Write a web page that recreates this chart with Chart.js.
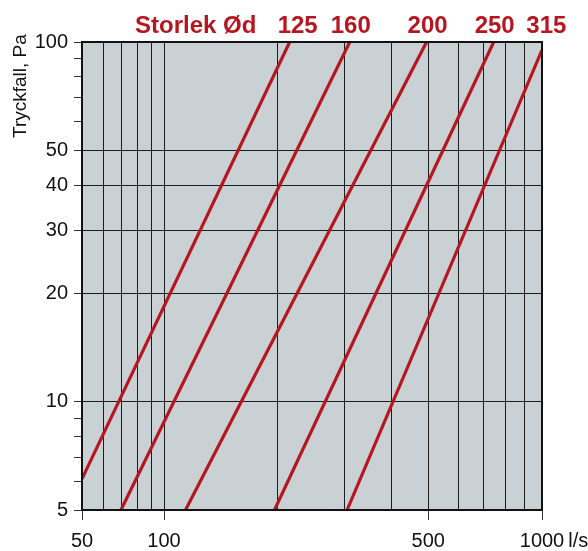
<!DOCTYPE html>
<html lang="sv">
<head>
    <meta charset="UTF-8">
    <title>Tryckfall</title>
    <script src="https://cdn.jsdelivr.net/npm/chart.js"></script>
    <style>
        body {
            margin: 0;
            background: #fff;
        }
        canvas {
            display: block;
        }
    </style>
</head>
<body>
    <canvas id="chart" width="588" height="551"></canvas>

    <script>
        // Storlek Ød, varje linje ritas mellan två avlästa punkter
        const sizes = ['125', '160', '200', '250', '315'];
        const flowStart = [50, 69.5, 114, 196, 305];
        const dropStart = [6.1, 5, 5, 5, 5];
        const flowEnd = [215, 310, 495, 745, 1000];
        const dropEnd = [100, 100, 100, 100, 95];

        // axlar
        const flowTicks = [50, 60, 70, 80, 90, 100, 200, 300, 400, 500, 600, 700, 800, 900, 1000];
        const flowLabels = [50, 100, 500, 1000];
        const dropTicks = [5, 6, 7, 8, 9, 10, 20, 30, 40, 50, 60, 70, 80, 90, 100];
        const dropLabels = [5, 10, 20, 30, 40, 50, 100];
        const dropGrid = [5, 10, 20, 30, 40, 50, 100];

        const RED = '#b5161f';
        const SANS = "'Liberation Sans', Arial, sans-serif";

        // originalet har olika skala för 50-100 och 100-1000
        const SPLIT = 82 / 460;

        class SplitLogScale extends Chart.LogarithmicScale {
            static id = 'splitlog';

            getPixelForValue(value) {
                if (value === undefined || value === 0) value = this.min;
                if (value === null || isNaN(value)) return NaN;
                const a = Math.log10(this.min), b = Math.log10(this.max), m = 2;
                const v = Math.log10(value);
                const dec = v <= m
                    ? SPLIT * (v - a) / (m - a)
                    : SPLIT + (1 - SPLIT) * (v - m) / (b - m);
                return this.getPixelForDecimal(dec);
            }

            getValueForPixel(pixel) {
                const dec = this.getDecimalForPixel(pixel);
                const a = Math.log10(this.min), b = Math.log10(this.max), m = 2;
                const v = dec <= SPLIT
                    ? a + (m - a) * dec / SPLIT
                    : m + (b - m) * (dec - SPLIT) / (1 - SPLIT);
                return Math.pow(10, v);
            }
        }
        Chart.register(SplitLogScale);

        const datasets = sizes.map((s, i) => ({
            label: s,
            data: [{x: flowStart[i], y: dropStart[i]}, {x: flowEnd[i], y: dropEnd[i]}],
            borderColor: RED,
            borderWidth: 3.2,
            pointRadius: 0,
            fill: false,
            borderCapStyle: 'butt'
        }));

        const decorPlugin = {
            id: 'decor',
            beforeDraw(chart) {
                const {ctx, chartArea: a} = chart;
                ctx.save();
                ctx.fillStyle = '#c9d1d5';
                ctx.fillRect(a.left, a.top, a.right - a.left, a.bottom - a.top);
                ctx.restore();
            },
            afterDatasetsDraw(chart) {
                const {ctx, chartArea: a} = chart;
                ctx.save();
                ctx.strokeStyle = '#111';
                ctx.lineWidth = 2;
                ctx.strokeRect(a.left, a.top, a.right - a.left, a.bottom - a.top);
                ctx.restore();
            },
            afterDraw(chart) {
                const {ctx, chartArea: a, scales} = chart;
                const xs = scales.x, ys = scales.y;
                ctx.save();

                // rubrik
                ctx.fillStyle = RED;
                ctx.font = 'bold 24px ' + SANS;
                ctx.textBaseline = 'alphabetic';
                ctx.textAlign = 'left';
                ctx.fillText('Storlek Ød', 135, 33);
                ctx.textAlign = 'center';
                sizes.forEach((s, i) => {
                    const x0 = xs.getPixelForValue(flowStart[i]), y0 = ys.getPixelForValue(dropStart[i]);
                    const x1 = xs.getPixelForValue(flowEnd[i]), y1 = ys.getPixelForValue(dropEnd[i]);
                    const xt = x0 + (x1 - x0) * (a.top - y0) / (y1 - y0);
                    ctx.fillText(s, i === 0 ? xt + 8 : xt + 1, 33);
                });

                // y-axelns titel
                ctx.fillStyle = '#111';
                ctx.font = '19px ' + SANS;
                ctx.translate(26, 138);
                ctx.rotate(-Math.PI / 2);
                ctx.textAlign = 'left';
                ctx.fillText('Tryckfall, Pa', 0, 0);
                ctx.restore();

                // enhet efter 1000
                ctx.save();
                ctx.fillStyle = '#111';
                ctx.font = '20px ' + SANS;
                ctx.textAlign = 'left';
                ctx.textBaseline = 'alphabetic';
                const xe = xs.getPixelForValue(1000) + ctx.measureText('1000').width / 2 + 4;
                ctx.fillText('l/s', xe, 547);
                ctx.restore();
            }
        };

        new Chart(document.getElementById('chart'), {
            type: 'line',
            data: {datasets},
            options: {
                responsive: false,
                animation: false,
                events: [],
                layout: {padding: {top: 42, right: 46, left: 0, bottom: 0}},
                plugins: {
                    legend: {display: false},
                    tooltip: {enabled: false}
                },
                scales: {
                    x: {
                        type: 'splitlog',
                        min: 50,
                        max: 1000,
                        afterBuildTicks: s => { s.ticks = flowTicks.map(v => ({value: v})); },
                        afterFit: s => { s.height = 41; },
                        border: {display: false},
                        grid: {
                            color: '#1c1c1c',
                            lineWidth: 1,
                            tickLength: 10,
                            tickColor: c => flowLabels.includes(c.tick.value) ? '#333' : 'rgba(0,0,0,0)'
                        },
                        ticks: {
                            autoSkip: false,
                            maxRotation: 0,
                            padding: 9,
                            color: '#111',
                            font: {family: SANS, size: 20},
                            callback: v => flowLabels.includes(v) ? String(v) : ''
                        }
                    },
                    y: {
                        type: 'logarithmic',
                        min: 5,
                        max: 100,
                        afterBuildTicks: s => { s.ticks = dropTicks.map(v => ({value: v})); },
                        afterFit: s => { s.width = 82; },
                        border: {display: false},
                        grid: {
                            color: c => dropGrid.includes(c.tick.value) ? '#1c1c1c' : 'rgba(0,0,0,0)',
                            lineWidth: 1,
                            tickLength: 8,
                            tickColor: '#333'
                        },
                        ticks: {
                            autoSkip: false,
                            padding: 6,
                            color: '#111',
                            font: {family: SANS, size: 20},
                            callback: v => dropLabels.includes(v) ? String(v) : ''
                        }
                    }
                }
            },
            plugins: [decorPlugin]
        });
    </script>
</body>
</html>
